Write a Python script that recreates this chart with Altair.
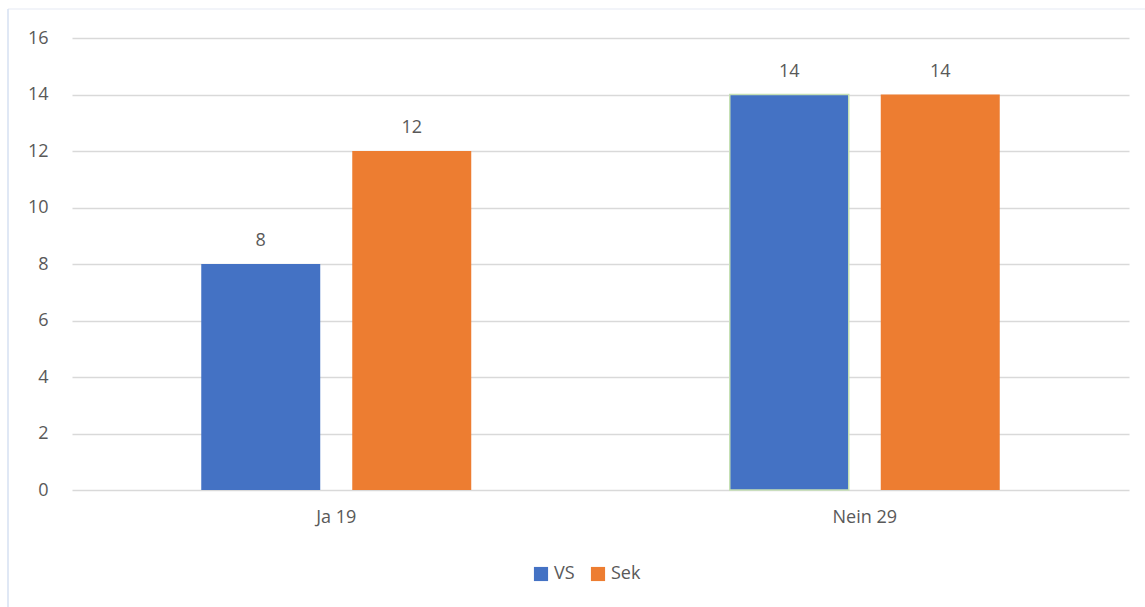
import altair as alt
import pandas as pd

# Survey answers, counted per school level
categories = ["Ja 19", "Nein 29"]
series_names = ["VS", "Sek"]
vs_counts = [8, 14]
sek_counts = [12, 14]
series_colors = ["#4472C4", "#ED7D31"]
y_ticks = [0, 2, 4, 6, 8, 10, 12, 14, 16]

rows = []
for i, cat in enumerate(categories):
    rows.append({"Antwort": cat, "Gruppe": "VS", "Anzahl": vs_counts[i]})
    rows.append({"Antwort": cat, "Gruppe": "Sek", "Anzahl": sek_counts[i]})
df = pd.DataFrame(rows)

FONT = "Open Sans"
TXT = "#595959"
FS = 18

x_enc = alt.X(
    "Antwort:N",
    sort=categories,
    scale=alt.Scale(paddingInner=0, paddingOuter=0),
    axis=alt.Axis(title=None, labelAngle=0, ticks=False, domain=False,
                  grid=False, labelPadding=18, labelFontSize=FS,
                  labelColor=TXT, labelFont=FONT),
)
x_off = alt.XOffset("Gruppe:N", sort=series_names,
                    scale=alt.Scale(paddingInner=0.212, paddingOuter=0.856))
y_enc = alt.Y(
    "Anzahl:Q",
    scale=alt.Scale(domain=[0, 16], nice=False),
    axis=alt.Axis(title=None, values=y_ticks, ticks=False, domain=False,
                  gridColor="#D9D9D9", gridWidth=1.6, labelPadding=24,
                  labelFontSize=FS, labelColor=TXT, labelFont=FONT),
)
color_enc = alt.Color(
    "Gruppe:N",
    sort=series_names,
    scale=alt.Scale(domain=series_names, range=series_colors),
    legend=alt.Legend(title=None, orient="none", direction="horizontal",
                      legendX=460, legendY=527, symbolType="square",
                      symbolSize=200, labelFontSize=FS, labelColor=TXT,
                      labelFont=FONT, columnPadding=14, labelOffset=4,
                      padding=0, symbolStrokeWidth=0),
)

highlight = (alt.datum.Antwort == "Nein 29") & (alt.datum.Gruppe == "VS")

bars = alt.Chart(df).mark_bar(strokeWidth=1.5).encode(
    x=x_enc,
    xOffset=x_off,
    y=y_enc,
    color=color_enc,
    stroke=alt.condition(highlight, alt.value("#C5E0B4"), alt.value("transparent")),
)

labels = alt.Chart(df).mark_text(
    baseline="alphabetic", dy=-18, fontSize=FS, font=FONT, color=TXT
).encode(
    x=alt.X("Antwort:N", sort=categories),
    xOffset=alt.XOffset("Gruppe:N", sort=series_names),
    y="Anzahl:Q",
    text="Anzahl:Q",
)

# faint frame around the chart area (top and left edges)
frame_df = pd.DataFrame({"k": [0]})
frame_top = alt.Chart(frame_df).mark_rule(color="#EEF1F7", strokeWidth=1.5).encode(
    x=alt.value(-64), x2=alt.value(1080), y=alt.value(-29)
)
frame_left = alt.Chart(frame_df).mark_rule(color="#D6E0F2", strokeWidth=1.5).encode(
    x=alt.value(-64), y=alt.value(-29), y2=alt.value(575)
)

chart = (
    alt.layer(frame_top, frame_left, bars, labels)
    .properties(
        width=1057,
        height=452,
        background="white",
        autosize=alt.AutoSizeParams(type="none"),
        padding={"left": 72, "top": 38, "right": 16, "bottom": 117},
    )
    .configure_view(strokeWidth=0)
    .configure_axisX(grid=False)
)

chart.save("out.html", embed_options={"renderer": "svg", "actions": False})
